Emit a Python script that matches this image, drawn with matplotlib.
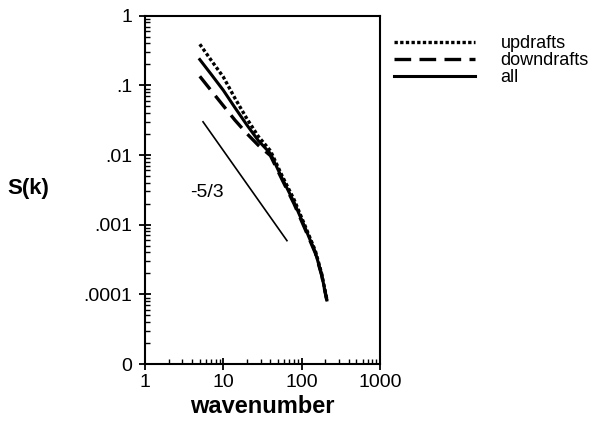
import numpy as np
import matplotlib
matplotlib.use("Agg")
import matplotlib.pyplot as plt
from matplotlib.ticker import FixedLocator, FixedFormatter, LogLocator, NullFormatter

plt.rcParams['font.family'] = ['Liberation Sans', 'DejaVu Sans']

# spectra
wavenumber = [5, 7, 10, 14, 20, 28, 40, 56, 80, 110, 150, 180, 210]
s_updrafts = [0.39, 0.229, 0.132, 0.066, 0.0332, 0.0185, 0.0115, 0.0051,
              0.0023, 0.00098, 0.00042, 0.0002, 0.000085]
s_downdrafts = [0.135, 0.084, 0.051, 0.0319, 0.0203, 0.0138, 0.0098, 0.0045,
                0.002, 0.00088, 0.00039, 0.00019, 0.000082]
s_all = [0.235, 0.144, 0.085, 0.0483, 0.027, 0.0161, 0.0105, 0.0047,
         0.0021, 0.00092, 0.000398, 0.000194, 0.000083]

# -5/3 reference slope
ref_k = [5.5, 65]
ref_s = [0.030, 0.00059]
ref_label = "-5/3"
ref_label_pos = (3.75, 0.0029)

xticks = [1, 10, 100, 1000]
xticklabels = ["1", "10", "100", "1000"]
yticks = [1e-5, 1e-4, 1e-3, 1e-2, 1e-1, 1]
yticklabels = ["0", ".0001", ".001", ".01", ".1", "1"]

fig = plt.figure(figsize=(6.02, 4.25), dpi=100)
ax = fig.add_axes([0.241, 0.1435, 0.390, 0.8195])

ax.plot(wavenumber, s_updrafts, color='black', lw=2.4, linestyle=(0, (1, 0.7)),
        label='updrafts')
ax.plot(wavenumber, s_downdrafts, color='black', lw=2.4, linestyle=(0, (5, 2.5)),
        label='downdrafts')
ax.plot(wavenumber, s_all, color='black', lw=2.2, label='all')
ax.plot(ref_k, ref_s, color='black', lw=1.2)
ax.text(ref_label_pos[0], ref_label_pos[1], ref_label, fontsize=14,
        ha='left', va='center')

ax.set_xscale('log')
ax.set_yscale('log')
ax.set_xlim(1, 1000)
ax.set_ylim(1e-5, 1)

ax.xaxis.set_major_locator(FixedLocator(xticks))
ax.xaxis.set_major_formatter(FixedFormatter(xticklabels))
ax.xaxis.set_minor_locator(LogLocator(base=10, subs=np.arange(2, 10)))
ax.xaxis.set_minor_formatter(NullFormatter())
ax.yaxis.set_major_locator(FixedLocator(yticks))
ax.yaxis.set_major_formatter(FixedFormatter(yticklabels))
ax.yaxis.set_minor_locator(LogLocator(base=10, subs=np.arange(2, 10)))
ax.yaxis.set_minor_formatter(NullFormatter())

ax.tick_params(which='major', direction='inout', length=8, width=1.3,
               labelsize=14, pad=3)
ax.tick_params(axis='y', which='major', pad=5)
ax.tick_params(which='minor', direction='in', length=3.5, width=1.0)
for sp in ax.spines.values():
    sp.set_linewidth(1.5)

ax.set_xlabel('wavenumber', fontsize=17, fontweight='bold', labelpad=3)
ax.set_ylabel('S(k)', fontsize=16, fontweight='bold', rotation=0,
              ha='left', va='center')
ax.yaxis.set_label_coords(-0.585, 0.505)

ax.legend(loc='upper left', bbox_to_anchor=(1.03, 0.965), frameon=False,
          fontsize=13, handlelength=4.5, handletextpad=1.4, labelspacing=0.0,
          borderaxespad=0)

fig.savefig('out.png', dpi=100)
